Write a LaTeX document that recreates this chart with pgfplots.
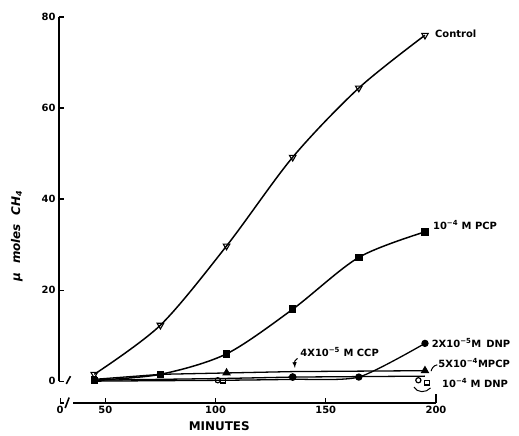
\documentclass[border=0pt]{standalone}
\usepackage{fontspec}
\setmainfont{DejaVu Sans}
\usepackage{pgfplots}
\pgfplotsset{compat=1.18}

\newcommand{\lab}{\bfseries\fontsize{10}{12}\selectfont}
\newcommand{\msup}[1]{\textsuperscript{−#1}}

\begin{document}
\begin{tikzpicture}
\begin{axis}[
    scale only axis,
    width=377bp, height=386bp,
    xmin=29, xmax=200,
    ymin=-4.8, ymax=80,
    axis x line*=bottom, axis y line*=left,
    axis line style={draw=none},
    xtick={29.5,50,100,150,200},
    xticklabels={0,50,100,150,200},
    ytick={0,20,40,60,80},
    tick align=inside,
    major tick length=5bp,
    tick style={black, line width=1.2pt},
    ticklabel style={font=\lab},
    /pgf/number format/assume math mode=true,
    clip=false,
]
\coordinate (SW) at (rel axis cs:0,0);

% axes drawn by hand, with breaks
\draw[line width=1.3pt] (axis cs:29,0) -- (axis cs:29,80);
\draw[line width=1.3pt] (axis cs:29,0) -- (axis cs:30.8,0);
\draw[line width=1.6pt] (axis cs:32.3,-0.6) -- (axis cs:34.2,1.1);
\draw[line width=1.3pt] (axis cs:29.5,-4.8) -- (axis cs:31.2,-4.8);
\draw[line width=1.6pt] (axis cs:31.8,-5.9) -- (axis cs:33.6,-3.6);
\draw[line width=1.3pt] (axis cs:35.5,-4.8) -- (axis cs:200,-4.8);
\draw[line width=1.2pt] (axis cs:200,-4.8) -- (axis cs:200,-2.9);

% near-zero series
\addplot[black, line width=1.3pt, mark=*, mark size=3.2pt, mark indices={4}] coordinates {
    (45,0.2) (75,0.4) (105,0.6) (135,0.9) (165,1.0) (195,1.1)
};
\addplot[black, line width=1.3pt, mark=triangle*, mark size=3.8pt, mark indices={3,6}] coordinates {
    (45,0.4) (75,1.5) (105,1.8) (135,2.1) (165,2.2) (195,2.3)
};
\addplot[black, line width=1.3pt, smooth, tension=0.4, mark=*, mark size=3pt, mark indices={5,6}] coordinates {
    (45,0) (75,0.1) (105,0.2) (135,0.4) (165,0.9) (195,8.3)
};
\addplot[black, only marks, mark=o, mark size=2.6pt, mark options={fill=white, line width=1.2pt}] coordinates {
    (101,0.2) (192,0.2)
};
\addplot[black, only marks, mark=square, mark size=2.4pt, mark options={fill=white, line width=1.2pt}] coordinates {
    (45,0.4) (103.5,0.1) (196,-0.3)
};

% 10^-4 M PCP
\addplot[black, line width=1.5pt, smooth, mark=square*, mark size=3pt] coordinates {
    (45,0.2) (75,1.5) (105,6.0) (135,15.8) (165,27.2) (195,32.8)
};
% Control
\addplot[black, line width=1.5pt, smooth, mark=triangle, mark size=3.8pt,
    mark options={rotate=180, fill=white, line width=1.1pt}] coordinates {
    (45,1.5) (75,12.3) (105,29.7) (135,49.2) (165,64.4) (195,76.0)
};

% labels
\node[anchor=west, inner sep=0pt, font=\lab] at (axis cs:199.5,76.3) {Control};
\node[anchor=west, inner sep=0pt, font=\lab] at (axis cs:198.6,34.3) {10\msup{4} M PCP};
\node[anchor=west, inner sep=0pt, font=\lab] at (axis cs:198,8.4) {2X10\msup{5}M\enspace DNP};
\node[anchor=west, inner sep=0pt, font=\lab] at (axis cs:201,4.0) {5X10\msup{4}MPCP};
\node[anchor=west, inner sep=0pt, font=\lab] at (axis cs:202.7,-0.4) {10\msup{4} M DNP};
\node[anchor=west, inner sep=0pt, font=\lab] at (axis cs:138.4,6.4) {4X10\msup{5} M CCP};

\draw[line width=1pt, -latex] (axis cs:137.2,5.0) .. controls (axis cs:135.8,4.4) .. (axis cs:136,2.9);
\draw[line width=1pt] (axis cs:200.6,3.6) .. controls (axis cs:198.5,3.4) and (axis cs:198,2.6) .. (axis cs:197.8,2.2);
\draw[line width=1pt] (axis cs:190,-1.3) .. controls (axis cs:191.5,-2.6) and (axis cs:195.5,-2.6) .. (axis cs:197.5,-1.5);

\node[rotate=90, font=\bfseries\itshape\fontsize{12}{14}\selectfont] at (axis cs:9.9,31.9) {μ\ \ moles\ \ CH\textsubscript{4}};
\node[font=\bfseries\fontsize{12}{14}\selectfont] at (axis cs:101.7,-9.9) {MINUTES};
\end{axis}
\pgfresetboundingbox
\path (SW) ++(-59bp,-33bp) rectangle ++(519bp,436bp);
\end{tikzpicture}
\end{document}
